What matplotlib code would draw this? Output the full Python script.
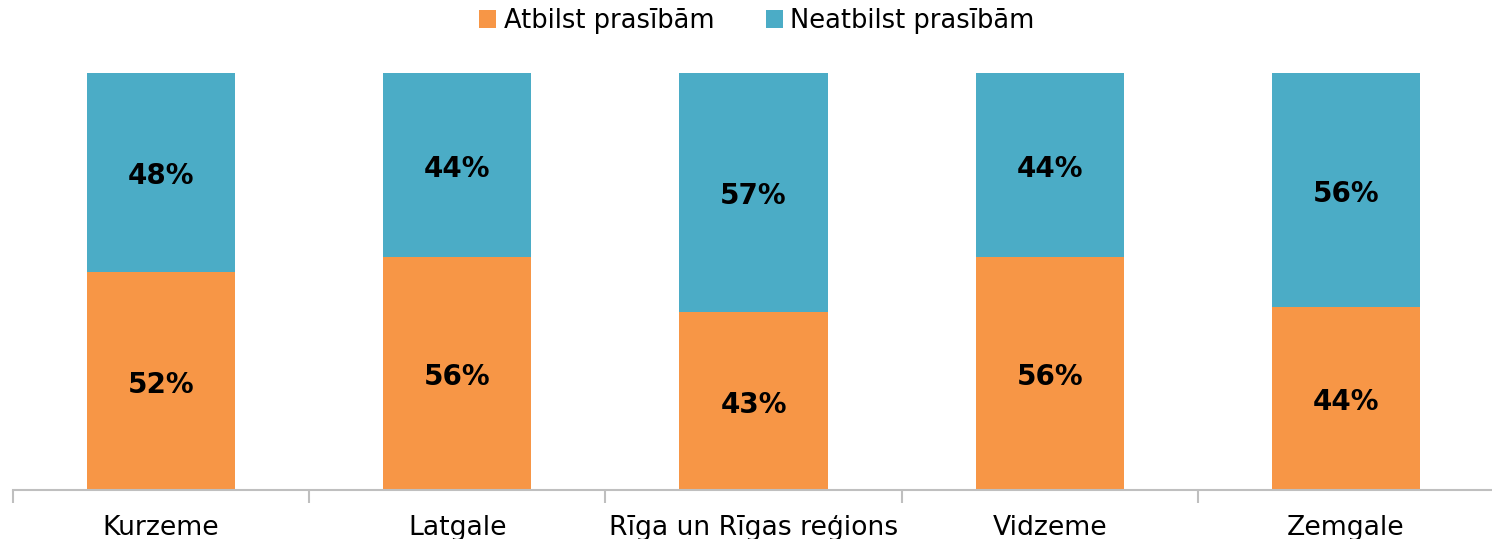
import matplotlib
matplotlib.use("Agg")
import matplotlib.pyplot as plt
import matplotlib.transforms as mtransforms
import numpy as np

categories = ["Kurzeme", "Latgale", "Rīga un Rīgas reģions", "Vidzeme", "Zemgale"]
atbilst = [52.3, 55.9, 42.7, 55.9, 43.9]
neatbilst = [47.7, 44.1, 57.3, 44.1, 56.1]
series_names = ["Atbilst prasībām", "Neatbilst prasībām"]
colors = ["#F79646", "#4BACC6"]

plt.rcParams['font.family'] = ['DejaVu Sans']
fig = plt.figure(figsize=(14.92, 5.39), dpi=100)
W, H = 1492, 539
ax = fig.add_axes([13 / W, (H - 490) / H, (1494 - 13) / W, (490 - 73) / H])

x = np.arange(len(categories))
b1 = ax.bar(x, atbilst, width=0.5, color=colors[0], label=series_names[0])
b2 = ax.bar(x, neatbilst, width=0.5, bottom=atbilst, color=colors[1], label=series_names[1])

off = mtransforms.offset_copy(ax.transData, fig=fig, x=0, y=-4, units="dots")
for xi, a, n in zip(x, atbilst, neatbilst):
    ax.text(xi, a / 2, f"{round(a)}%", ha="center", va="center", fontsize=20,
            fontweight="bold", transform=off)
    ax.text(xi, a + n / 2, f"{round(n)}%", ha="center", va="center", fontsize=20,
            fontweight="bold", transform=off)

ax.set_xlim(-0.5, len(categories) - 0.5)
ax.set_ylim(0, 100)
ax.set_yticks([])
for s in ["top", "right", "left"]:
    ax.spines[s].set_visible(False)
ax.spines["bottom"].set_color("#BFBFBF")
ax.spines["bottom"].set_linewidth(1.5)

ax.set_xticks(x)
ax.set_xticklabels(categories, fontsize=19.2)
ax.tick_params(axis="x", which="major", length=0, pad=18)
ax.set_xticks(np.arange(len(categories) + 1) - 0.5, minor=True)
ax.tick_params(axis="x", which="minor", length=9, width=1.5, color="#BFBFBF")

fig.legend(handles=[b1, b2], labels=series_names, loc="center", bbox_to_anchor=(757 / W, 1 - 21 / H),
           ncol=2, frameon=False, fontsize=18.5, handlelength=0.65, handleheight=0.65,
           handletextpad=0.3, columnspacing=2.0)

fig.savefig("out.png", dpi=100)
